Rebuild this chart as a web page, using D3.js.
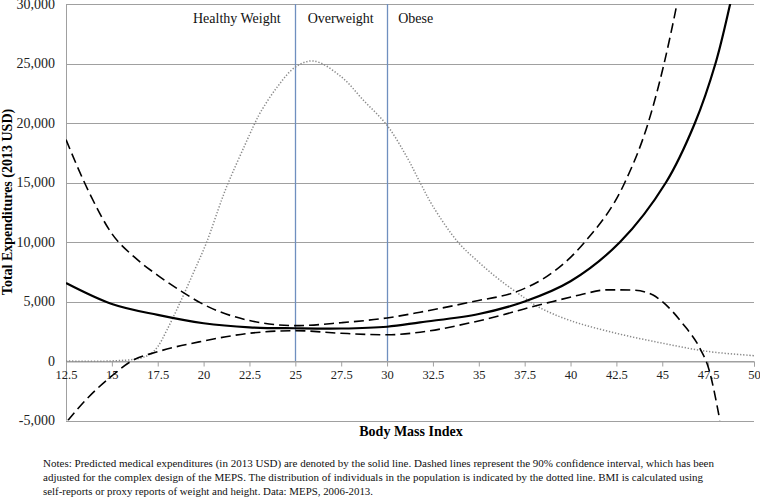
<!DOCTYPE html>
<html>
<head>
<meta charset="utf-8">
<script src="https://cdn.jsdelivr.net/npm/d3@7"></script>
<style>
  html, body { margin: 0; padding: 0; background: #fff; }
  svg { display: block; }
</style>
</head>
<body>
<svg id="chart" width="760" height="497"></svg>
<script>
// ---- data ----
const xTicks = [12.5, 15, 17.5, 20, 22.5, 25, 27.5, 30, 32.5, 35, 37.5, 40, 42.5, 45, 47.5, 50];
const yTicks = [-5000, 0, 5000, 10000, 15000, 20000, 25000, 30000];

const predBMI = [12.5, 15, 17.5, 20, 22.5, 25, 27.5, 30, 31.8, 35, 37.5, 40, 42.7, 45.2, 46.78, 47.9, 48.7, 49.4];
const predVal = [6550, 4790, 3870, 3170, 2830, 2750, 2730, 2880, 3250, 3950, 5000, 6700, 10000, 15000, 20000, 25000, 30000, 35000];

const upperBMI = [12.5, 13.75, 15, 16.25, 17.5, 18.75, 20, 22.5, 25, 27.5, 30, 31.8, 34.7, 37.06, 38.5, 40.78, 42.96, 44.23, 45.1, 45.8, 46.3];
const upperVal = [18600, 14200, 10700, 8700, 7200, 5900, 4750, 3400, 2970, 3220, 3620, 4100, 5000, 5830, 6900, 10000, 15000, 20000, 25000, 30000, 34000];

const lowerBMI = [12.6, 13.75, 15, 16.08, 17.5, 20, 22.5, 25, 27.5, 30, 31.8, 34.5, 36.33, 37.8, 39.04, 40.5, 42, 43.4, 44.5, 45, 46.1, 47.1, 47.5, 48.14];
const lowerVal = [-5000, -3000, -1250, 0, 780, 1680, 2330, 2550, 2330, 2200, 2420, 3200, 3880, 4520, 5000, 5550, 5980, 5960, 5540, 4990, 3170, 920, -480, -5000];

const distBMI = [12.5, 14.9, 16.5, 17.1, 17.5, 18, 18.7, 19.44, 20.17, 20.98, 21.35, 22.5, 22.8, 23.1, 24, 25, 26, 27.5, 28.7, 30, 31.07, 31.8, 32.5, 33.86, 35, 36.15, 37.5, 38.3, 40, 42.5, 45, 47.5, 50];
const distVal = [0, 0, 220, 590, 1200, 2600, 4850, 7400, 10000, 13530, 15000, 19000, 20000, 20900, 23000, 24700, 25210, 23890, 21930, 19800, 17170, 15000, 13000, 10000, 8300, 6800, 5300, 4500, 3390, 2330, 1500, 800, 450];

const categoryBounds = [25, 30];
const categoryLabels = ["Healthy Weight", "Overweight", "Obese"];
const categoryLabelX = [19.42, 25.67, 30.61];

const yTitle = "Total Expenditures (2013 USD)";
const xTitle = "Body Mass Index";
const notes = [
  "Notes: Predicted medical expenditures (in 2013 USD) are denoted by the solid line. Dashed lines represent the 90% confidence interval, which has been",
  "adjusted for the complex design of the MEPS. The distribution of individuals in the population is indicated by the dotted line. BMI is calculated using",
  "self-reports or proxy reports of weight and height. Data: MEPS, 2006-2013."
];

// ---- layout ----
const svg = d3.select("#chart");
const L = 66, R = 754, T = 4, B = 420.5;
const x = d3.scaleLinear().domain([12.5, 50]).range([L, R]);
const y = d3.scaleLinear().domain([-5000, 30000]).range([B, T]);
const serif = "'Liberation Serif', 'Times New Roman', serif";
const gridColor = "#a0a0a0";

svg.append("defs").append("clipPath").attr("id", "plotclip")
  .append("rect").attr("x", L).attr("y", T).attr("width", R - L).attr("height", B - T);

// gridlines
svg.append("g").selectAll("line").data(yTicks).join("line")
  .attr("x1", L).attr("x2", R)
  .attr("y1", d => Math.round(y(d)) + 0.5).attr("y2", d => Math.round(y(d)) + 0.5)
  .attr("stroke", gridColor).attr("stroke-width", 1);

// y axis line
svg.append("line").attr("x1", L + 0.5).attr("x2", L + 0.5).attr("y1", T).attr("y2", B)
  .attr("stroke", gridColor).attr("stroke-width", 1);

// x axis at y=0
const xAxis = d3.axisBottom(x).tickValues(xTicks).tickSize(5).tickPadding(4).tickFormat(d => d3.format("")(d));
const xg = svg.append("g").attr("transform", `translate(0,${Math.round(y(0)) + 0.5})`).call(xAxis);
xg.select(".domain").attr("stroke", gridColor);
xg.selectAll(".tick line").attr("stroke", gridColor);
xg.selectAll(".tick text").attr("font-family", serif).attr("font-size", 12.5).attr("fill", "#222");

// y labels
const yAxis = d3.axisLeft(y).tickValues(yTicks).tickSize(0).tickPadding(11)
  .tickFormat(d => d3.format(",")(d).replace("\u2212", "-"));
const yg = svg.append("g").attr("transform", `translate(${L},0)`).call(yAxis);
yg.select(".domain").remove();
yg.selectAll(".tick text").attr("font-family", serif).attr("font-size", 14).attr("fill", "#222");

// category boundaries
svg.append("g").selectAll("line").data(categoryBounds).join("line")
  .attr("x1", d => Math.round(x(d)) + 0.5).attr("x2", d => Math.round(x(d)) + 0.5)
  .attr("y1", T).attr("y2", y(0))
  .attr("stroke", "#6f8fbf").attr("stroke-width", 1.3);

svg.append("g").selectAll("text").data(categoryLabels).join("text")
  .attr("x", (d, i) => x(categoryLabelX[i]))
  .attr("y", 23)
  .attr("font-family", serif).attr("font-size", 14).attr("fill", "#111")
  .text(d => d);

const smooth = d3.line().curve(d3.curveCatmullRom.alpha(0.5)).x(d => x(d[0])).y(d => y(d[1]));
const mono = d3.line().curve(d3.curveMonotoneX).x(d => x(d[0])).y(d => y(d[1]));
const plot = svg.append("g").attr("clip-path", "url(#plotclip)");

plot.append("path").datum(d3.zip(distBMI, distVal)).attr("d", smooth)
  .attr("fill", "none").attr("stroke", "#8a8a8a").attr("stroke-width", 1.5).attr("stroke-dasharray", "1.3,1.8");

plot.append("path").datum(d3.zip(upperBMI, upperVal)).attr("d", mono)
  .attr("fill", "none").attr("stroke", "#000").attr("stroke-width", 1.6).attr("stroke-dasharray", "10,5");

plot.append("path").datum(d3.zip(lowerBMI, lowerVal)).attr("d", mono)
  .attr("fill", "none").attr("stroke", "#000").attr("stroke-width", 1.6).attr("stroke-dasharray", "10,5");

plot.append("path").datum(d3.zip(predBMI, predVal)).attr("d", smooth)
  .attr("fill", "none").attr("stroke", "#000").attr("stroke-width", 2.2);

// titles
svg.append("text").attr("transform", "translate(12,202) rotate(-90)")
  .attr("text-anchor", "middle").attr("font-family", serif).attr("font-weight", "bold")
  .attr("font-size", 14).attr("fill", "#000").text(yTitle);

svg.append("text").attr("x", 411).attr("y", 436)
  .attr("text-anchor", "middle").attr("font-family", serif).attr("font-weight", "bold")
  .attr("font-size", 14).attr("fill", "#000").text(xTitle);

const noteWidths = [671, 660, 330];
svg.append("g").selectAll("text").data(notes).join("text")
  .attr("x", 43).attr("y", (d, i) => 467 + i * 14)
  .attr("font-family", serif).attr("font-size", 11).attr("fill", "#111")
  .attr("textLength", (d, i) => noteWidths[i]).attr("lengthAdjust", "spacingAndGlyphs")
  .text(d => d);
</script>
</body>
</html>
